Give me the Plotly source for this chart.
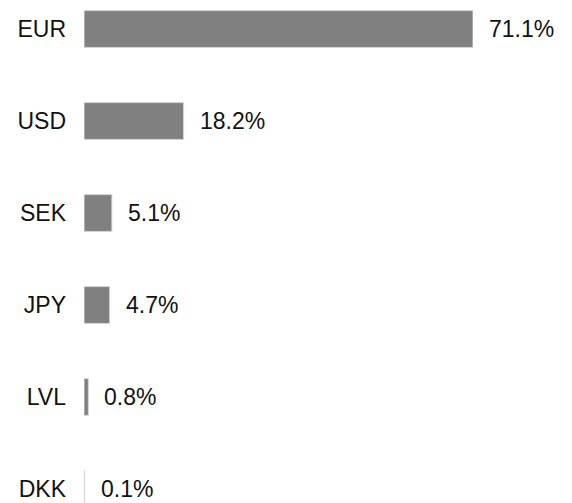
import plotly.graph_objects as go

currencies = ["EUR", "USD", "SEK", "JPY", "LVL", "DKK"]
shares = [71.1, 18.2, 5.1, 4.7, 0.8, 0.1]
labels = ["71.1%", "18.2%", "5.1%", "4.7%", "0.8%", "0.1%"]

FONT = "Liberation Sans, Arial, sans-serif"

fig = go.Figure()
fig.add_trace(go.Bar(
    x=shares,
    y=currencies,
    orientation="h",
    width=0.4,
    marker=dict(color="#808080", line=dict(color="#d6d6d6", width=1)),
    hoverinfo="skip",
))

for cur, val, lab in zip(currencies, shares, labels):
    fig.add_annotation(
        x=val, y=cur, text=lab, showarrow=False,
        xanchor="left", yanchor="middle", xshift=14,
        font=dict(family=FONT, size=23, color="#111111"),
    )

n = len(currencies)
fig.update_layout(
    width=572, height=503,
    margin=dict(l=84, r=99, t=0, b=0, autoexpand=False),
    paper_bgcolor="white", plot_bgcolor="white",
    showlegend=False,
    xaxis=dict(range=[0, 71.1], visible=False, fixedrange=True, automargin=False),
    yaxis=dict(
        type="category", automargin=False, fixedrange=True,
        categoryorder="array", categoryarray=currencies,
        range=[n - 1 + 14 / 92, -29 / 92],
        showgrid=False, zeroline=False, showline=False,
        ticks="", ticklabelstandoff=17,
        tickfont=dict(family=FONT, size=23, color="#111111"),
    ),
)

fig.write_html(
    "out.html",
    config={"displayModeBar": False},
    post_script="document.body.style.margin='0';document.body.style.overflow='hidden';",
)
